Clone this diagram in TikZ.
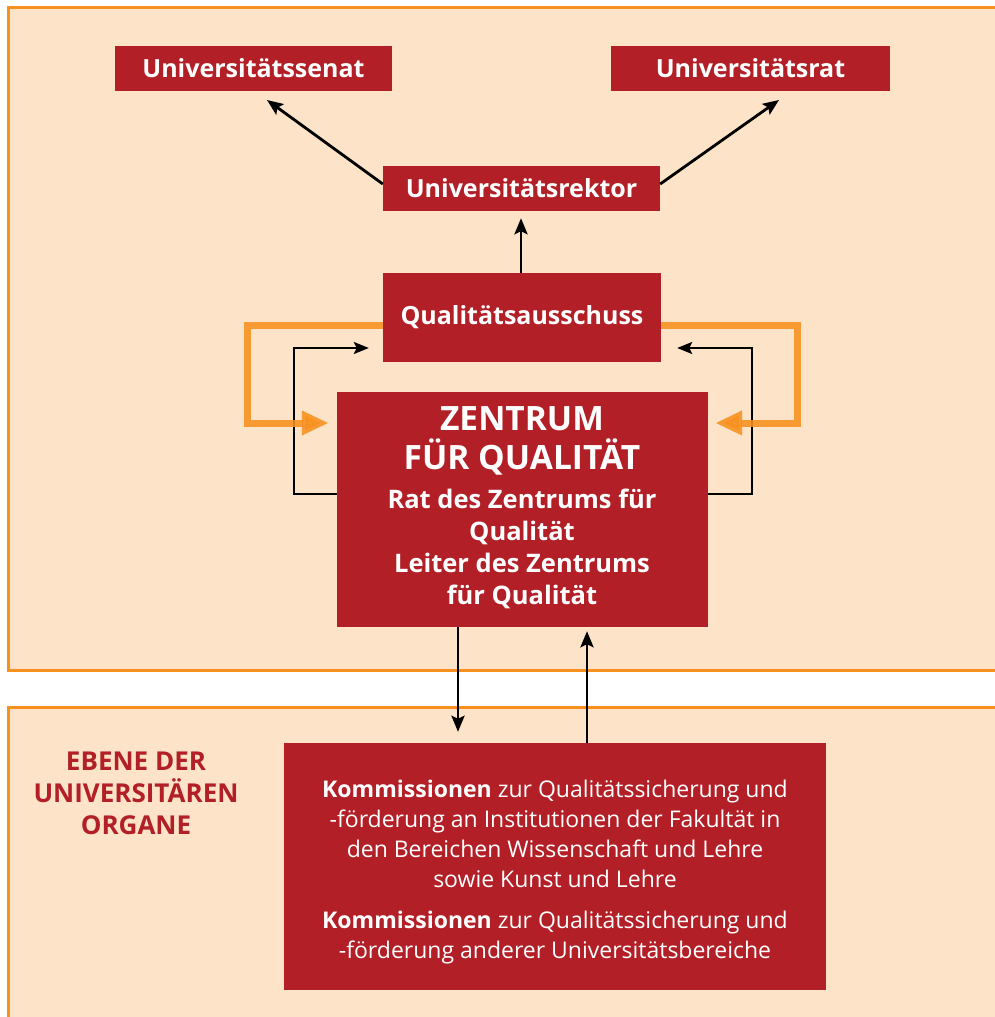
\documentclass[tikz,border=0pt]{standalone}
\usepackage{fontspec}
\setmainfont{Open Sans}
\usetikzlibrary{arrows.meta}
\definecolor{boxred}{HTML}{B31F26}
\definecolor{peach}{HTML}{FDE3C7}
\definecolor{orng}{HTML}{F7901E}
\begin{document}
\begin{tikzpicture}[x=1pt,y=-1pt,
  panel/.style={draw=orng,line width=3pt,fill=peach},
  redbox/.style={fill=boxred,text=white,inner sep=0pt,font=\bfseries\fontsize{25}{28}\selectfont},
  wtext/.style={text=white,align=center,inner sep=0pt},
  blk/.style={draw=black,line width=2.8pt,-{Stealth[length=16pt,width=13pt,inset=3pt]}},
  loop/.style={draw=black,line width=2.3pt,-{Stealth[length=15pt,width=12pt,inset=3pt]}},
  oarrow/.style={draw=orng,line width=7pt,opacity=0.88,line join=miter,-{Triangle[length=27pt,width=23pt]}}]
\useasboundingbox (0,0) rectangle (995,1017);
\fill[white] (0,0) rectangle (995,1017);
\draw[panel] (8,7.5) rectangle (1020,670);
\draw[panel] (8,707.5) rectangle (1020,1040);

\node[redbox,minimum width=277pt,minimum height=45pt] (sen) at (253.5,68.5) {Universitätssenat};
\node[redbox,minimum width=279pt,minimum height=45pt] (rat) at (750.5,68.5) {Universitätsrat};
\node[redbox,minimum width=277pt,minimum height=45pt] (rk) at (521.5,188.5) {Universitätsrektor};
\node[redbox,minimum width=278pt,minimum height=89pt] (qa) at (522,317.5) {Qualitätsausschuss};
\node[fill=boxred,minimum width=371pt,minimum height=235pt,inner sep=0pt] (zc) at (522.5,509.5) {};
\node[wtext,font=\bfseries\fontsize{33.5}{39}\selectfont] (zt1) at (522,441) {ZENTRUM\\FÜR QUALITÄT};
\node[wtext,font=\bfseries\fontsize{25.5}{32}\selectfont] (zt2) at (522,548.5) {Rat des Zentrums für\\Qualität\\Leiter des Zentrums\\für Qualität};
\node[fill=boxred,minimum width=542pt,minimum height=247pt,inner sep=0pt] (kb) at (555,866.5) {};
\node[wtext,font=\fontsize{23}{30}\selectfont] (kt1) at (555,834) {\textbf{Kommissionen} zur Qualitätssicherung und\\-förderung an Institutionen der Fakultät in\\den Bereichen Wissenschaft und Lehre\\sowie Kunst und Lehre};
\node[wtext,font=\fontsize{23}{30}\selectfont] (kt2) at (555,938) {\textbf{Kommissionen} zur Qualitätssicherung und\\-förderung anderer Universitätsbereiche};
\node[align=center,inner sep=0pt,text=boxred,font=\bfseries\fontsize{26}{32}\selectfont] (eb) at (136,793) {EBENE DER\\UNIVERSITÄREN\\ORGANE};

\coordinate (senTip) at (267,100);
\coordinate (ratTip) at (779,100);
\draw[blk] (rk.west |- 0,184) -- (senTip);
\draw[blk] (rk.east |- 0,184) -- (ratTip);
\draw[blk,shorten >=7pt] (qa.north -| 521,0) -- (rk.south -| 521,0);
\draw[blk,shorten >=11pt] (zc.south -| 458,0) -- (kb.north -| 458,0);
\draw[blk,shorten >=4pt] (kb.north -| 587,0) -- (zc.south -| 587,0);

\draw[loop,shorten >=14pt] (zc.west |- 0,494) -- (294,494) -- (294,348) -- (qa.west |- 0,348);
\draw[loop,shorten >=16pt] (zc.east |- 0,494) -- (752,494) -- (752,348) -- (qa.east |- 0,348);

\draw[oarrow,shorten >=8pt] (qa.west |- 0,325) -- (247,325) -- (247,423) -- (zc.west |- 0,423);
\draw[oarrow,shorten >=7pt] (qa.east |- 0,325) -- (797,325) -- (797,423) -- (zc.east |- 0,423);
\end{tikzpicture}
\end{document}
